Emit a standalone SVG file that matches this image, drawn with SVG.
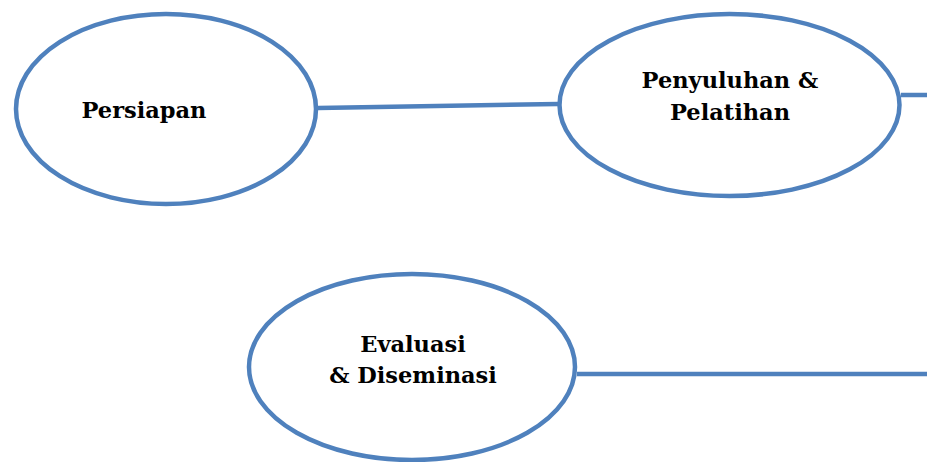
<svg xmlns="http://www.w3.org/2000/svg" width="927" height="462" viewBox="0 0 927 462">
<style>
.n{fill:#fff;stroke:#4F81BD;stroke-width:4.5}
.c{fill:none;stroke:#4F81BD;stroke-width:4.5}
.t{font-family:"DejaVu Serif","Liberation Serif",serif;font-weight:bold;font-size:22.5px;fill:#000;text-anchor:middle}
</style>
<rect width="927" height="462" fill="#fff"/>
<g id="connectors">
<line class="c" x1="318" y1="108" x2="558" y2="104"/>
<line class="c" x1="901" y1="95" x2="927" y2="95"/>
<line class="c" x1="577" y1="374" x2="927" y2="374"/>
</g>
<g id="persiapan">
<ellipse class="n" cx="166" cy="109" rx="150" ry="95"/>
<text class="t" x="144" y="118">Persiapan</text>
</g>
<g id="penyuluhan">
<ellipse class="n" cx="729.5" cy="105" rx="170" ry="91"/>
<text class="t" x="730" y="88">Penyuluhan &amp;</text>
<text class="t" x="730" y="120">Pelatihan</text>
</g>
<g id="evaluasi">
<ellipse class="n" cx="412" cy="367" rx="163" ry="93"/>
<text class="t" x="413" y="352">Evaluasi</text>
<text class="t" x="413" y="383">&amp; Diseminasi</text>
</g>
</svg>
